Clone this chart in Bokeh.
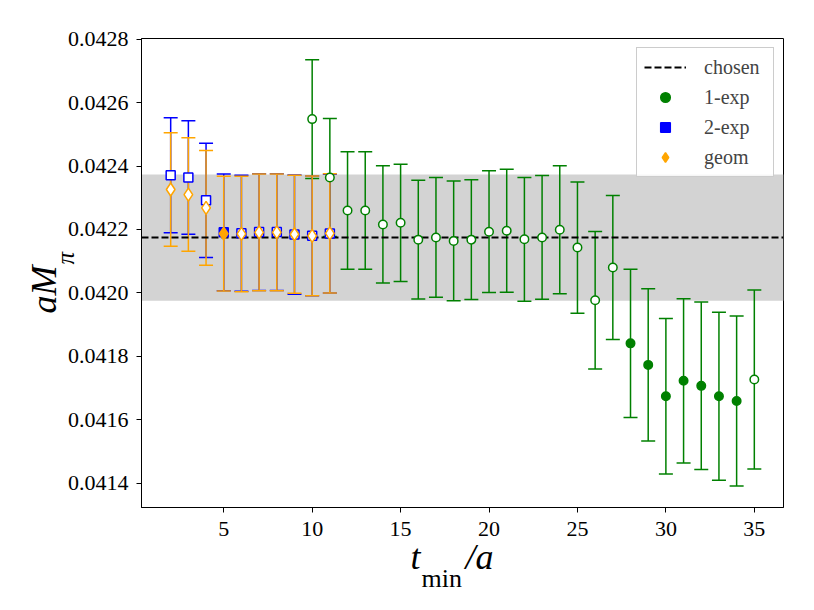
import math
from bokeh.plotting import figure
from bokeh.models import (ColumnDataSource, Whisker, TeeHead, Range1d, FixedTicker,
                          PrintfTickFormatter, Legend, LegendItem, BoxAnnotation, Title)
from bokeh.embed import file_html
from bokeh.resources import INLINE

# ---------------- data ----------------
t_1exp = list(range(10, 36))
val_1exp = [0.042548, 0.042364, 0.042260, 0.042260, 0.042216, 0.042221, 0.042168,
            0.042175, 0.042164, 0.042168, 0.042193, 0.042196, 0.042169, 0.042175,
            0.042199, 0.042143, 0.041977, 0.042080, 0.041841, 0.041773, 0.041674,
            0.041723, 0.041707, 0.041674, 0.041659, 0.041727]
err_1exp = [0.000187, 0.000186, 0.000185, 0.000185, 0.000185, 0.000185, 0.000187,
            0.000189, 0.000189, 0.000189, 0.000192, 0.000194, 0.000195, 0.000195,
            0.000202, 0.000207, 0.000217, 0.000227, 0.000234, 0.000240, 0.000245,
            0.000259, 0.000264, 0.000265, 0.000268, 0.000282]
filled_1exp = [False] * 18 + [True] * 7 + [False]

t_2exp = list(range(2, 12))
val_2exp = [0.042371, 0.042364, 0.042292, 0.042191, 0.042188, 0.042192, 0.042192,
            0.042184, 0.042180, 0.042187]
err_2exp = [0.000181, 0.000179, 0.000180, 0.000184, 0.000183, 0.000184, 0.000184,
            0.000188, 0.000189, 0.000187]
filled_2exp = [False, False, False, True, False, False, False, False, False, False]

t_geom = list(range(2, 12))
val_geom = [0.042326, 0.042310, 0.042268, 0.042187, 0.042186, 0.042191, 0.042191,
            0.042185, 0.042180, 0.042188]
err_geom = [0.000179, 0.000179, 0.000181, 0.000181, 0.000182, 0.000184, 0.000184,
            0.000186, 0.000189, 0.000188]
filled_geom = [False, False, False, True, False, False, False, False, False, False]

chosen_val = 0.042174
chosen_err = 0.000199

x_ticks = [5, 10, 15, 20, 25, 30, 35]
y_ticks = [0.0414, 0.0416, 0.0418, 0.0420, 0.0422, 0.0424, 0.0426, 0.0428]

# ---------------- figure ----------------
FONT = "Liberation Serif"
X0, X1 = 0.35, 36.65
Y0, Y1 = 0.0413234, 0.0428022

p = figure(width=814, height=608, output_backend="svg", toolbar_location=None,
           x_range=Range1d(X0, X1), y_range=Range1d(Y0, Y1),
           min_border_left=141, min_border_right=31, min_border_top=38,
           min_border_bottom=101)
p.xgrid.visible = False
p.ygrid.visible = False
p.outline_line_color = "black"
p.outline_line_alpha = 1
p.outline_line_width = 1
p.background_fill_color = "white"
p.border_fill_color = "white"

for ax in (p.xaxis[0], p.yaxis[0]):
    ax.axis_line_color = "black"
    ax.major_tick_line_color = "black"
    ax.major_tick_out = 5
    ax.major_tick_in = 0
    ax.minor_tick_out = 0
    ax.minor_tick_in = 0
    ax.major_label_text_font = FONT
    ax.major_label_text_font_size = "22px"
    ax.major_label_text_color = "black"

p.xaxis.ticker = FixedTicker(ticks=x_ticks)
p.xaxis.formatter = PrintfTickFormatter(format="%d")
p.xaxis.major_label_standoff = 9
p.yaxis.ticker = FixedTicker(ticks=y_ticks)
p.yaxis.formatter = PrintfTickFormatter(format="%.4f")
p.yaxis.major_label_standoff = 8

# band
band = BoxAnnotation(bottom=chosen_val - chosen_err, top=chosen_val + chosen_err,
                     fill_color="#d3d3d3", fill_alpha=1, line_alpha=0, level="underlay")
p.add_layout(band)


def make_src(t, v, e, filled, color):
    return ColumnDataSource(dict(
        t=t, v=v,
        lo=[a - b for a, b in zip(v, e)],
        hi=[a + b for a, b in zip(v, e)],
        fc=[color if f else "white" for f in filled],
    ))


series = [
    ("1-exp", t_1exp, val_1exp, err_1exp, filled_1exp, "green", "circle", 8.5, 18),
    ("2-exp", t_2exp, val_2exp, err_2exp, filled_2exp, "blue", "square", 9, 3),
    ("geom", t_geom, val_geom, err_geom, filled_geom, "orange", "diamond", 13, 3),
]

srcs = []
for name, t, v, e, f, col, mk, sz, idx in series:
    src = make_src(t, v, e, f, col)
    srcs.append(src)
    w = Whisker(source=src, base="t", upper="hi", lower="lo",
                line_color=col, line_width=1.5, level="underlay",
                upper_head=TeeHead(size=14, line_color=col, line_width=1.5),
                lower_head=TeeHead(size=14, line_color=col, line_width=1.5))
    p.add_layout(w)

chosen_r = p.hspan(y=[chosen_val], line_color="black", line_width=2, line_dash="7 3")

items = [LegendItem(label="chosen", renderers=[chosen_r])]
for (name, t, v, e, f, col, mk, sz, idx), src in zip(series, srcs):
    r = p.scatter("t", "v", source=src, marker=mk, size=sz, fill_color="fc",
                  line_color=col, line_width=1.5)
    items.append(LegendItem(label=name, renderers=[r], index=idx))

legend = Legend(items=items, location="top_right", margin=9, padding=7, spacing=6,
                glyph_width=42, glyph_height=24, label_standoff=18, label_width=62,
                label_text_font=FONT, label_text_font_size="20px",
                border_line_color="#cccccc", border_line_width=1,
                border_line_alpha=1, background_fill_alpha=0.8)
p.add_layout(legend)


# axis labels composed from side-panel titles
def side_title(text, size_px, italic, offset, standoff, valign):
    return Title(text=text, align="left", vertical_align=valign, offset=offset,
                 standoff=standoff, text_font=FONT,
                 text_font_style="italic" if italic else "normal",
                 text_font_size=f"{size_px}px", text_color="black")


NBSP = "\u00a0"

# y label:  aM_pi   (subscript panel next to the axis, collapsed)
p.add_layout(side_title("π", 25, True, 243, -28, "bottom"), "left")
p.add_layout(side_title("aM", 36, True, 194, 0, "bottom"), "left")

# x label:  t_min / a
p.add_layout(side_title("t" + NBSP * 5 + "/a", 36, True, 269, -3, "top"), "below")
p.add_layout(side_title("min", 26, False, 280, -28, "top"), "below")

open("out.html", "w").write(file_html(p, INLINE))
